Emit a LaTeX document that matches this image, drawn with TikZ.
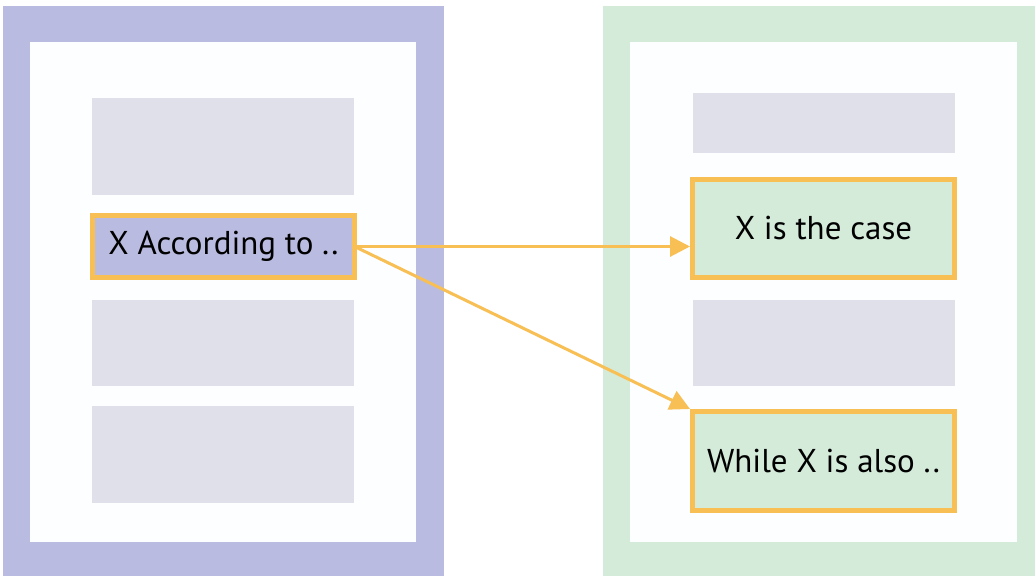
\documentclass[tikz,border=0pt]{standalone}
\usepackage{fontspec}
\setmainfont{PT Sans}
\usetikzlibrary{arrows.meta,calc}
\definecolor{panelpurple}{HTML}{B9BCE0}
\definecolor{panelgreen}{HTML}{D4EBDA}
\definecolor{slotgray}{HTML}{DFE0EA}
\definecolor{hilite}{HTML}{F8BF55}
\definecolor{paper}{HTML}{FDFEFF}
\tikzset{
  box/.style={rectangle, inner sep=0pt, outer sep=0pt},
  panel/.style={box, fill=#1},
  slot/.style={box, fill=slotgray, minimum width=262pt},
  keybox/.style={box, fill=#1, draw=hilite, line width=5pt, minimum width=262pt, font=\fontsize{33}{40}\selectfont, text=black},
  link/.style={draw=hilite, line width=3pt, -{Triangle[length=20pt,width=20pt]}}
}
\begin{document}
\begin{tikzpicture}[x=1pt,y=1pt]
\useasboundingbox[fill=white] (0,0) rectangle (1035,576);
% left panel
\node[panel=panelpurple, minimum width=441pt, minimum height=570pt] (lout) at (223.5,285) {};
\node[panel=paper, minimum width=386pt, minimum height=500pt] (lin) at (223,284) {};
\node[slot, minimum height=97pt] (lg1) at (223,429.5) {};
\node[keybox=panelpurple, minimum height=62pt] (src) at (223.5,329.5) {X According to ..};
\node[slot, minimum height=86pt] (lg2) at (223,233) {};
\node[slot, minimum height=97pt] (lg3) at (223,121.5) {};
% right panel
\node[panel=panelgreen, minimum width=432pt, minimum height=570pt] (rout) at (819,285) {};
\node[panel=paper, minimum width=387pt, minimum height=500pt] (rin) at (823.5,284) {};
\node[slot, minimum height=60pt] (rg1) at (823.5,453) {};
\node[keybox=panelgreen, minimum height=98pt] (case) at (823.5,347.5) {X is the case};
\node[slot, minimum height=86pt] (rg2) at (823.5,233) {};
\node[keybox=panelgreen, minimum height=99pt] (also) at (823.5,115) {While X is also ..};
% connectors
\draw[link] (src.east) -- ($(src.east -| case.west)+(-2.5,0)$);
\draw[link] (src.east) -- ($(also.north west)+(-2.5,2.5)$);
\end{tikzpicture}
\end{document}
